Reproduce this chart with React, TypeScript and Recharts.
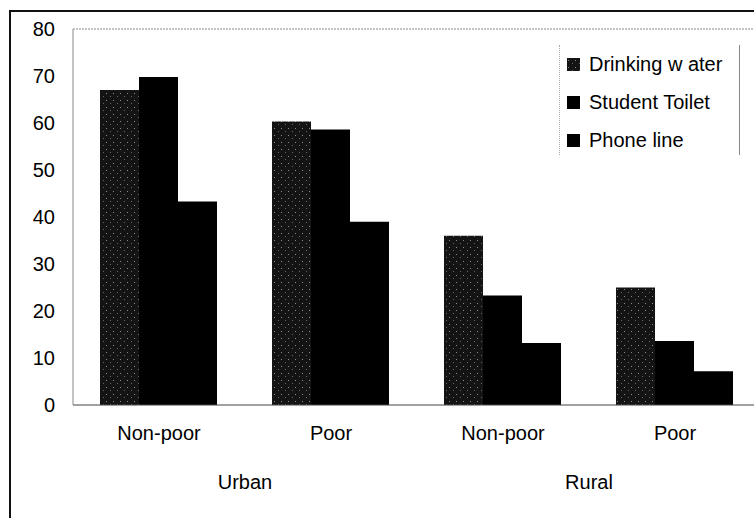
import React from 'react';
import { BarChart, Bar, XAxis, YAxis, ReferenceLine } from 'recharts';

const areas = ['Urban', 'Urban', 'Rural', 'Rural'];
const status = ['Non-poor', 'Poor', 'Non-poor', 'Poor'];
const drinkingWater = [67, 60.3, 36, 25];
const studentToilet = [69.8, 58.6, 23.3, 13.6];
const phoneLine = [43.3, 39, 13.2, 7.2];
const yTicks = [0, 10, 20, 30, 40, 50, 60, 70, 80];

const data = status.map((s, i) => ({
  status: s,
  area: areas[i],
  drinking: drinkingWater[i],
  toilet: studentToilet[i],
  phone: phoneLine[i],
}));

const FONT = 'Arial, "Liberation Sans", Helvetica, sans-serif';

const legendItems = [
  { label: 'Drinking w ater', fill: 'url(#stippleLeg)' },
  { label: 'Student Toilet', fill: '#000' },
  { label: 'Phone line', fill: '#000' },
];

const GroupTick = ({ x, y, payload }: any) => {
  const idx = payload.index;
  const first = idx === 0 || areas[idx - 1] !== areas[idx];
  const half = payload.offset ?? 0;
  return (
    <g>
      <text x={x} y={y} dy="0.71em" textAnchor="middle" fontSize={20} fontFamily={FONT} fill="#000">
        {payload.value}
      </text>
      {first && (
        <text x={x + half} y={y + 49} dy="0.71em" textAnchor="middle" fontSize={20} fontFamily={FONT} fill="#000">
          {areas[idx]}
        </text>
      )}
    </g>
  );
};

const Stipple = ({ id }: { id: string }) => (
  <pattern id={id} width="7" height="7" patternUnits="userSpaceOnUse">
    <rect width="7" height="7" fill="#141414" />
    <rect x="1" y="2" width="1" height="1" fill="#8a8a8a" />
    <rect x="5" y="5" width="1" height="1" fill="#666" />
  </pattern>
);

const LegendBox = () => (
  <div
    style={{
      position: 'absolute',
      left: 559,
      top: 45,
      width: 181,
      height: 110,
      borderLeft: '1px dotted #aaa',
      borderRight: '1px solid #888',
      boxSizing: 'border-box',
      paddingLeft: 7,
      fontFamily: FONT,
      fontSize: 20,
      color: '#000',
    }}
  >
    {legendItems.map((it) => (
      <div key={it.label} style={{ display: 'flex', alignItems: 'center', height: 38 }}>
        <svg width={13} height={13} style={{ marginRight: 9 }}>
          <defs>
            <Stipple id="stippleLeg" />
          </defs>
          <rect width={13} height={13} fill={it.fill} />
        </svg>
        <span>{it.label}</span>
      </div>
    ))}
  </div>
);

export default function App() {
  return (
    <div style={{ position: 'absolute', left: 0, top: 0, width: 754, height: 518, overflow: 'hidden', background: '#fff' }}>
      <div
        style={{
          position: 'absolute',
          left: 9,
          top: 10,
          width: 760,
          height: 520,
          borderLeft: '2px solid #111',
          borderTop: '2px solid #111',
        }}
      />
      <div style={{ position: 'absolute', left: 0, top: 0 }}>
        <BarChart
          width={770}
          height={518}
          data={data}
          margin={{ top: 29, right: 9, bottom: 0, left: 0 }}
          barCategoryGap={27}
          barGap={0}
        >
          <defs>
            <Stipple id="stipple" />
          </defs>
          <XAxis
            dataKey="status"
            height={113}
            tick={<GroupTick />}
            tickLine={false}
            tickSize={0}
            tickMargin={21}
            interval={0}
            axisLine={{ stroke: '#444' }}
          />
          <YAxis
            domain={[0, 80]}
            ticks={yTicks}
            width={73}
            tickLine={false}
            tickSize={0}
            tickMargin={18}
            axisLine={{ stroke: '#888' }}
            tick={{ fill: '#000', fontSize: 20, fontFamily: FONT }}
          />
          <ReferenceLine y={80} stroke="#888" strokeDasharray="2 1" />
          <Bar dataKey="drinking" name="Drinking water" fill="url(#stipple)" isAnimationActive={false} />
          <Bar dataKey="toilet" name="Student Toilet" fill="#000" isAnimationActive={false} />
          <Bar dataKey="phone" name="Phone line" fill="#000" isAnimationActive={false} />
        </BarChart>
      </div>
      <LegendBox />
    </div>
  );
}
